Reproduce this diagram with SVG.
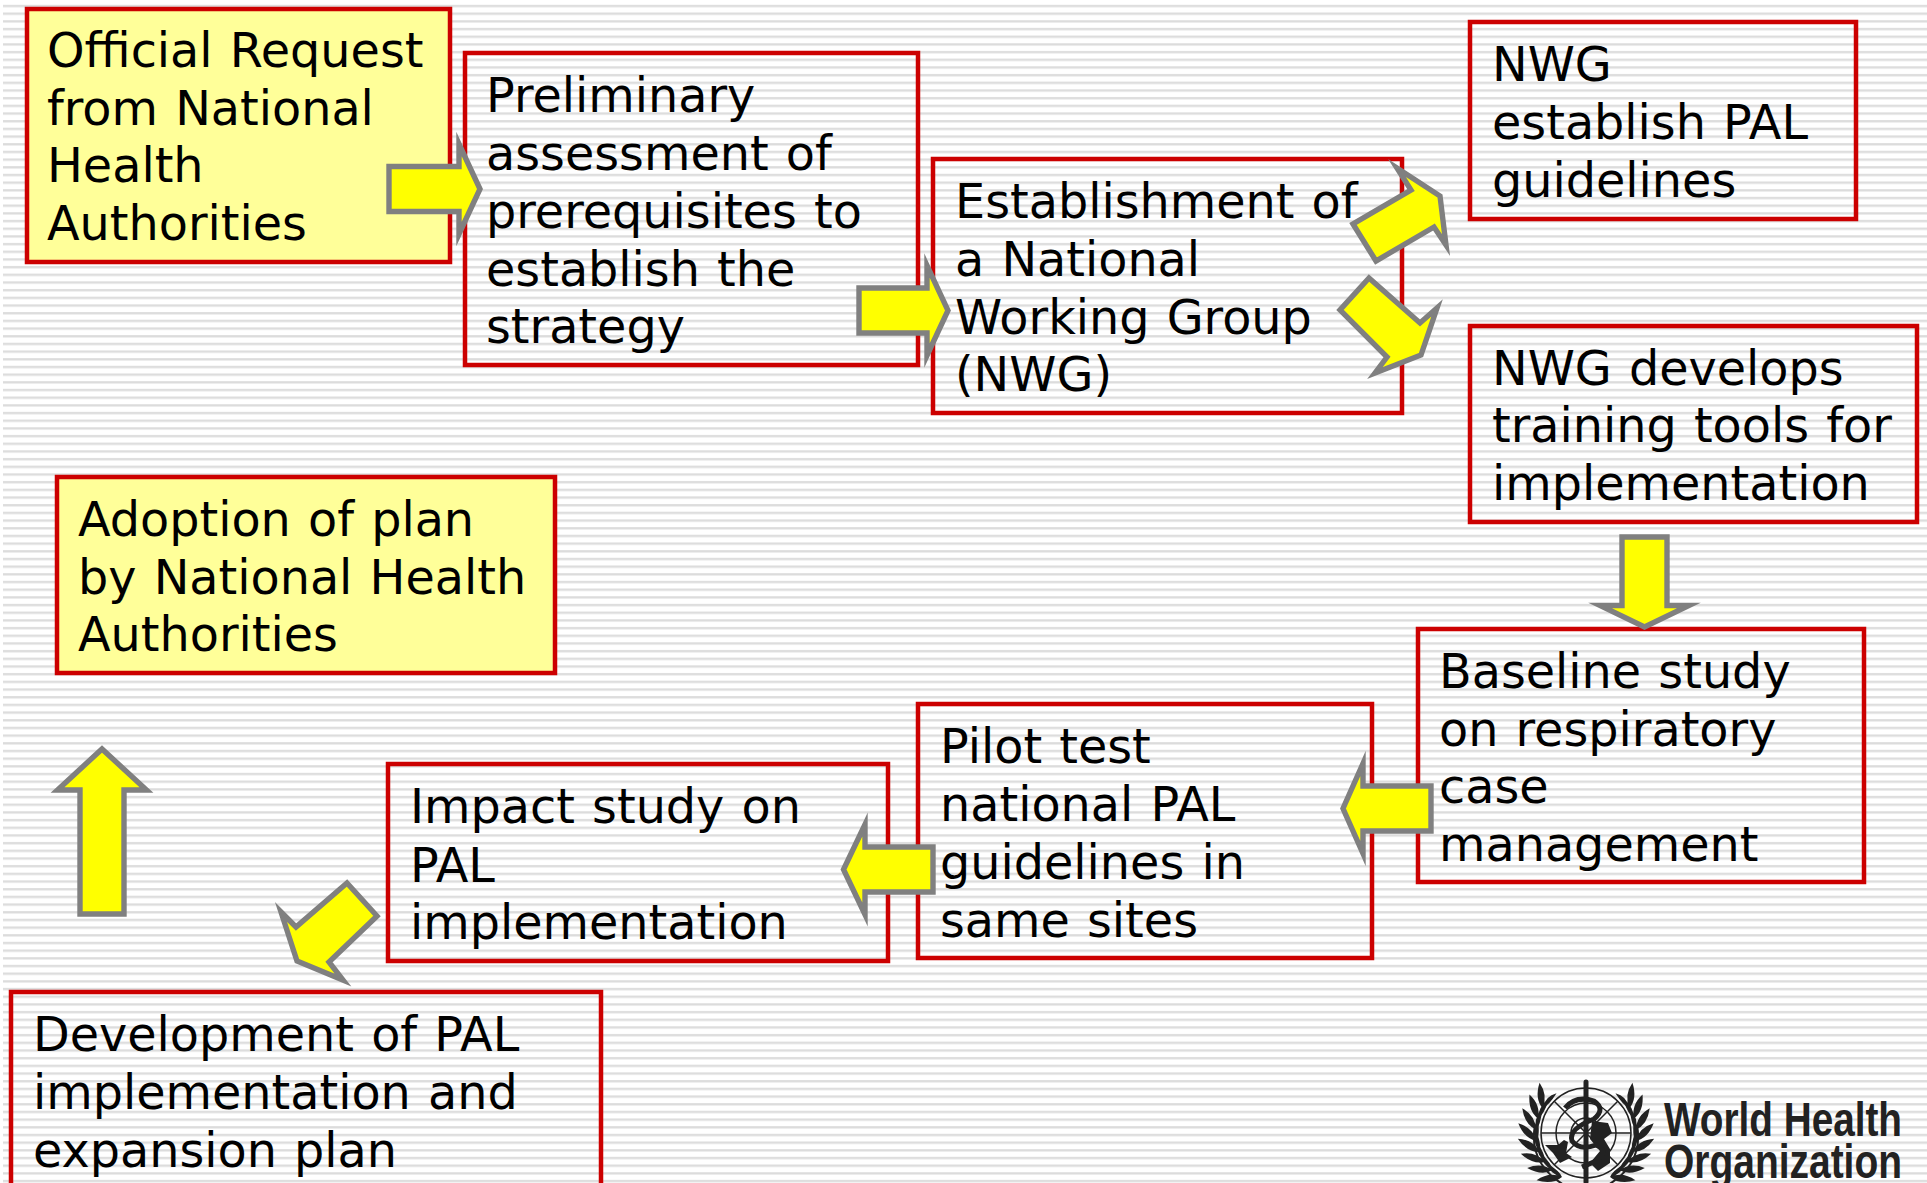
<svg xmlns="http://www.w3.org/2000/svg" width="1927" height="1183" viewBox="0 0 1927 1183">
<style>
.box{stroke:#cc0000;stroke-width:4.5;fill:none}
.y{fill:#ffff99}
.t{font-family:"DejaVu Sans",sans-serif;font-size:47.7px;word-spacing:2px;fill:#000}
.ar{fill:#ffff00;stroke:#808080;stroke-width:5.4;stroke-miterlimit:10}
.wt{font-family:"Liberation Sans",Arial,sans-serif;font-weight:bold;font-size:48px;fill:#222}
.g{fill:none;stroke:#222;stroke-width:1.5}
.k{fill:#222}
</style>
<defs>
<pattern id="st" x="3" y="0" width="100" height="7.68" patternUnits="userSpaceOnUse"><rect x="0" y="4.9" width="100" height="2.3" fill="#dcdcdc"/></pattern>
<g id="leaf"><path class="k" d="M-50,2Q-62,-2-66,-18Q-52,-12-50,2ZM-50,2Q-46,-3-46,-18Q-54,-10-50,2Z"/></g>
<g id="wr"><path d="M-51,-8Q-58,30-22,52" fill="none" stroke="#222" stroke-width="2"/><use href="#leaf" transform="rotate(32)"/><use href="#leaf" transform="rotate(19)"/><use href="#leaf" transform="rotate(6)"/><use href="#leaf" transform="rotate(-7)"/><use href="#leaf" transform="rotate(-20)"/><use href="#leaf" transform="rotate(-33)"/><use href="#leaf" transform="rotate(-46)"/><use href="#leaf" transform="rotate(-59)"/></g>
</defs>
<rect width="1927" height="1183" fill="#fff"/>
<rect x="3" y="0" width="1924" height="1183" fill="url(#st)"/>
<g id="n1"><rect class="box y" x="27" y="9" width="423" height="253"/><text class="t"><tspan x="47" y="67">Official Request</tspan><tspan x="47" y="125">from National</tspan><tspan x="47" y="182">Health</tspan><tspan x="47" y="240">Authorities</tspan></text></g>
<g id="n2"><rect class="box" x="465" y="53" width="453" height="312"/><text class="t"><tspan x="486" y="112">Preliminary</tspan><tspan x="486" y="170">assessment of</tspan><tspan x="486" y="228">prerequisites to</tspan><tspan x="486" y="286">establish the</tspan><tspan x="486" y="343">strategy</tspan></text></g>
<g id="n3"><rect class="box" x="933" y="159" width="469" height="254"/><text class="t"><tspan x="955" y="218">Establishment of</tspan><tspan x="955" y="276">a National</tspan><tspan x="955" y="334">Working Group</tspan><tspan x="955" y="391">(NWG)</tspan></text></g>
<g id="n4"><rect class="box" x="1470" y="22" width="386" height="197"/><text class="t"><tspan x="1492" y="81">NWG</tspan><tspan x="1492" y="139">establish PAL</tspan><tspan x="1492" y="197">guidelines</tspan></text></g>
<g id="n5"><rect class="box" x="1470" y="326" width="447" height="196"/><text class="t"><tspan x="1492" y="385">NWG develops</tspan><tspan x="1492" y="442">training tools for</tspan><tspan x="1492" y="500">implementation</tspan></text></g>
<g id="n6"><rect class="box" x="1418" y="629" width="446" height="253"/><text class="t"><tspan x="1439" y="688">Baseline study</tspan><tspan x="1439" y="746">on respiratory</tspan><tspan x="1439" y="803">case</tspan><tspan x="1439" y="861">management</tspan></text></g>
<g id="n7"><rect class="box" x="918" y="704" width="454" height="254"/><text class="t"><tspan x="940" y="763">Pilot test</tspan><tspan x="940" y="821">national PAL</tspan><tspan x="940" y="879">guidelines in</tspan><tspan x="940" y="937">same sites</tspan></text></g>
<g id="n8"><rect class="box" x="388" y="764" width="500" height="197"/><text class="t"><tspan x="410" y="823">Impact study on</tspan><tspan x="410" y="882">PAL</tspan><tspan x="410" y="939">implementation</tspan></text></g>
<g id="n9"><rect class="box" x="11" y="992" width="590" height="200"/><text class="t"><tspan x="33" y="1051">Development of PAL</tspan><tspan x="33" y="1109">implementation and</tspan><tspan x="33" y="1167">expansion plan</tspan></text></g>
<g id="n10"><rect class="box y" x="57" y="477" width="498" height="196"/><text class="t"><tspan x="78" y="536">Adoption of plan</tspan><tspan x="78" y="594">by National Health</tspan><tspan x="78" y="651">Authorities</tspan></text></g>
<g id="connectors">
<polygon class="ar" points="389,166.500 459,166.500 459,144 480,189 459,234 459,211.500 389,211.500"/>
<polygon class="ar" points="859,288 927,288 927,265.500 948,310.500 927,355.500 927,333 859,333"/>
<polygon class="ar" points="1353,224 1376,261 1434,227 1446,245 1440,196 1397,168 1411,190"/>
<polygon class="ar" points="1369,278 1340,310 1387,357 1375,373 1421,355 1437,308 1420,323"/>
<polygon class="ar" points="1622,537 1667,537 1667,605.500 1689,605.500 1644.500,627 1600,605.500 1622,605.500"/>
<polygon class="ar" points="1431,786 1363,786 1363,763.500 1343,808.500 1363,853.500 1363,831 1431,831"/>
<polygon class="ar" points="933,847 865,847 865,824.500 843.500,869.500 865,914.500 865,892 933,892"/>
<polygon class="ar" points="347,883 377,916 329,962 343,980 297,961 281,912 296,927"/>
<polygon class="ar" points="80,914 124,914 124,790 146.500,790 102,749 57.500,790 80,790"/>
</g>
<g id="logo">
<g transform="translate(1586 1133)">
<use href="#wr"/><use href="#wr" transform="scale(-1 1)"/>
<circle class="g" r="45"/><circle class="g" r="30"/><circle class="g" r="15"/>
<path class="g" d="M-45,0H45M-32,-32L32,32M32,-32L-32,32"/>
<path class="k" d="M-41,12L-28,12L-22,7L-18,9L-20,20L-14,24L-26,30L-33,20ZM6,-12L22,-10L26,0L18,6L24,16L24,30L12,38L4,30L14,18L4,6Z"/>
<path d="M0,-51V49" fill="none" stroke="#222" stroke-width="5" stroke-linecap="round"/>
<path d="M-21,-25Q-10,-38 8,-32Q20,-24 8,-14Q-18,-4-14,8Q-6,18 10,12Q24,18 10,28L-4,34" fill="none" stroke="#222" stroke-width="5"/>
</g>
<text class="wt" x="1664" y="1136" textLength="238" lengthAdjust="spacingAndGlyphs">World Health</text>
<text class="wt" x="1664" y="1178" textLength="238" lengthAdjust="spacingAndGlyphs">Organization</text>
</g>
</svg>
